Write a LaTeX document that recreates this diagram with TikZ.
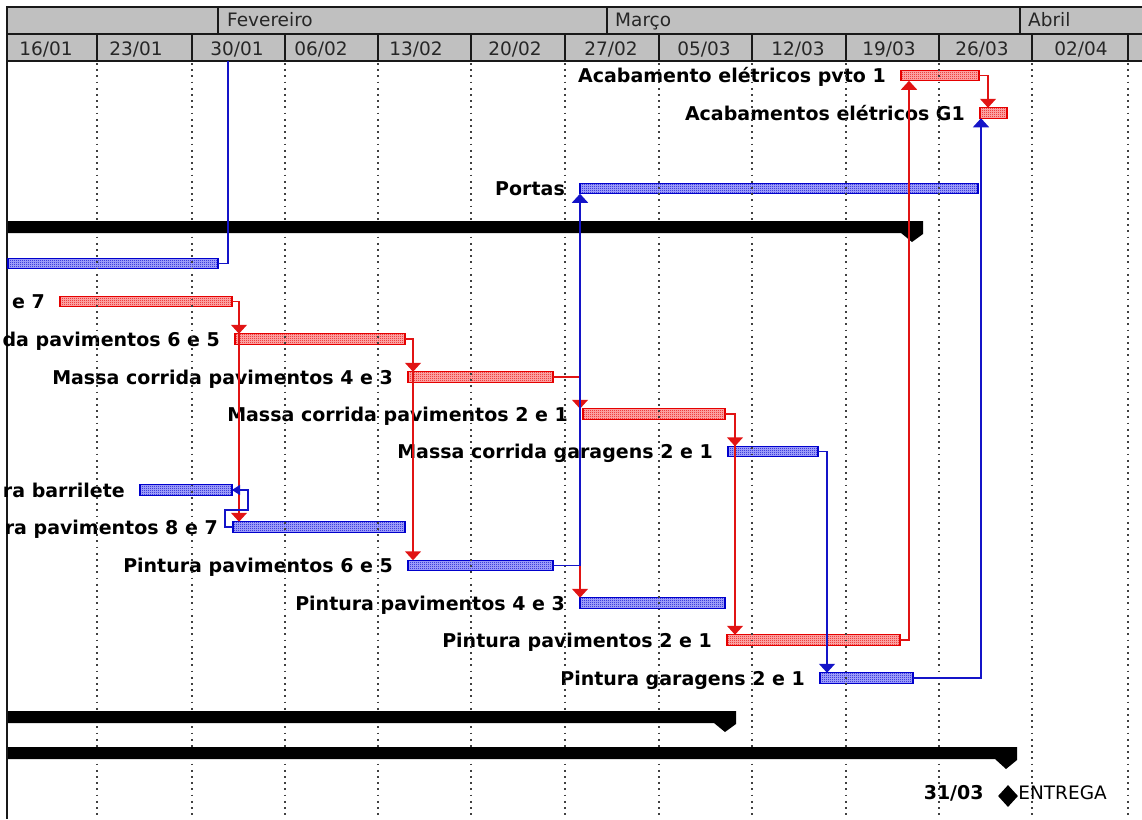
\documentclass[tikz,border=0pt]{standalone}
\usepackage{fontspec}
\setmainfont{DejaVu Sans}
\usetikzlibrary{arrows.meta,patterns,shapes.geometric}

\definecolor{hdrgray}{RGB}{192,192,192}
\definecolor{linkred}{RGB}{225,20,20}
\definecolor{linkblue}{RGB}{20,20,200}

% fine two-tone checker used inside the task bars
\pgfdeclarepatternformonly{checker}{\pgfqpoint{0pt}{0pt}}{\pgfqpoint{2pt}{2pt}}{\pgfqpoint{2pt}{2pt}}{%
  \pgfpathrectangle{\pgfqpoint{0pt}{0pt}}{\pgfqpoint{1pt}{1pt}}%
  \pgfpathrectangle{\pgfqpoint{1pt}{1pt}}{\pgfqpoint{1pt}{1pt}}%
  \pgfusepath{fill}}

\begin{document}
\begin{tikzpicture}[x=1pt,y=-1pt,
  hdrline/.style={line width=2pt, draw=black!90},
  gridline/.style={line width=1.8pt, dash pattern=on 1.8pt off 4.4pt, draw=black!75},
  ganttbar/.style={rectangle, inner sep=0pt, outer sep=0pt, minimum height=10.5pt, line width=1.3pt, anchor=west},
  redbar/.style={ganttbar, draw=red!90!black, preaction={fill=red!28!white}, pattern=checker, pattern color=red!90!black},
  bluebar/.style={ganttbar, draw=blue!80!black, preaction={fill=blue!30!white}, pattern=checker, pattern color=blue!80!black},
  lbl/.style={font=\fontsize{19}{22}\selectfont\bfseries, inner sep=0pt, anchor=base east},
  hdrtext/.style={font=\fontsize{18.5}{20}\selectfont, inner sep=0pt, anchor=base, text=black!85},
  redlink/.style={draw=linkred, line width=1.5pt},
  bluelink/.style={draw=linkblue, line width=1.5pt},
  vtip/.style={-{Triangle[width=16pt,length=9pt]}},
  sidetip/.style={-{Triangle[width=10pt,length=8pt]}},
]
\useasboundingbox (0,0) rectangle (1142,819);

% ---------- timescale header ----------
\fill[hdrgray] (7,7) rectangle (1142,61);
\draw[hdrline] (7,7) -- (1142,7);
\draw[hdrline] (7,33.5) -- (1142,33.5);
\draw[hdrline] (7,61) -- (1142,61);
\draw[hdrline] (7,6) -- (7,819);
\foreach \m in {218,607,1020} \draw[hdrline] (\m,7) -- (\m,33.5);
\foreach \w in {97,192,285,378,471,565,659,752,846,939,1032,1128} \draw[hdrline] (\w,33.5) -- (\w,61);

\node[hdrtext, anchor=base west] (mfev) at (227,27) {Fevereiro};
\node[hdrtext, anchor=base west] (mmar) at (615,27) {Março};
\node[hdrtext, anchor=base west] (mabr) at (1028,27) {Abril};

\node[hdrtext] (d1)  at (46,55)   {16/01};
\node[hdrtext] (d2)  at (136,55)  {23/01};
\node[hdrtext] (d3)  at (237,55)  {30/01};
\node[hdrtext] (d4)  at (321,55)  {06/02};
\node[hdrtext] (d5)  at (416,55)  {13/02};
\node[hdrtext] (d6)  at (515,55)  {20/02};
\node[hdrtext] (d7)  at (611,55)  {27/02};
\node[hdrtext] (d8)  at (704,55)  {05/03};
\node[hdrtext] (d9)  at (798,55)  {12/03};
\node[hdrtext] (d10) at (889,55)  {19/03};
\node[hdrtext] (d11) at (982,55)  {26/03};
\node[hdrtext] (d12) at (1081,55) {02/04};

% ---------- task bars ----------
\node[redbar,  minimum width=78pt]  (a1)  at (901,75.5)  {};
\node[redbar,  minimum width=27pt]  (g1)  at (980,113)   {};
\node[bluebar, minimum width=398pt] (portas) at (580,188.5) {};
\node[bluebar, minimum width=210pt] (ub)  at (8,263.5)   {};
\node[redbar,  minimum width=172pt] (m87) at (60,301.5)  {};
\node[redbar,  minimum width=170pt] (m65) at (235,339)   {};
\node[redbar,  minimum width=145pt] (m43) at (408,377)   {};
\node[redbar,  minimum width=142pt] (m21) at (583,414)   {};
\node[bluebar, minimum width=90pt]  (mg)  at (728,451.5) {};
\node[bluebar, minimum width=92pt]  (brl) at (140,490)   {};
\node[bluebar, minimum width=172pt] (p87) at (233,527)   {};
\node[bluebar, minimum width=145pt] (p65) at (408,565.5) {};
\node[bluebar, minimum width=145pt] (p43) at (580,603)   {};
\node[redbar,  minimum width=173pt] (p21) at (727,640)   {};
\node[bluebar, minimum width=93pt]  (pg)  at (820,678)   {};

% ---------- task names ----------
\node[lbl] (la1)  at ([shift={(-15pt,-7pt)}]a1.west)  {Acabamento elétricos pvto 1};
\node[lbl] (lg1)  at ([shift={(-15pt,-7pt)}]g1.west)  {Acabamentos elétricos G1};
\node[lbl] (lpor) at ([shift={(-15pt,-7pt)}]portas.west) {Portas};
\node[lbl] (lm87) at ([shift={(-15pt,-7pt)}]m87.west) {e 7};
\node[lbl] (lm65) at ([shift={(-15pt,-7pt)}]m65.west) {da pavimentos 6 e 5};
\node[lbl] (lm43) at ([shift={(-15pt,-7pt)}]m43.west) {Massa corrida pavimentos 4 e 3};
\node[lbl] (lm21) at ([shift={(-15pt,-7pt)}]m21.west) {Massa corrida pavimentos 2 e 1};
\node[lbl] (lmg)  at ([shift={(-15pt,-7pt)}]mg.west)  {Massa corrida garagens 2 e 1};
\node[lbl] (lbrl) at ([shift={(-15pt,-7pt)}]brl.west) {ra barrilete};
\node[lbl] (lp87) at ([shift={(-15pt,-7pt)}]p87.west) {ra pavimentos 8 e 7};
\node[lbl] (lp65) at ([shift={(-15pt,-7pt)}]p65.west) {Pintura pavimentos 6 e 5};
\node[lbl] (lp43) at ([shift={(-15pt,-7pt)}]p43.west) {Pintura pavimentos 4 e 3};
\node[lbl] (lp21) at ([shift={(-15pt,-7pt)}]p21.west) {Pintura pavimentos 2 e 1};
\node[lbl] (lpg)  at ([shift={(-15pt,-7pt)}]pg.west)  {Pintura garagens 2 e 1};

% ---------- weekly dotted grid ----------
\foreach \w in {97,192,285,378,471,565,659,752,846,939,1032,1128} \draw[gridline] (\w,63) -- (\w,819);

% ---------- summary bars ----------
\fill (8,221) -- (923,221) -- (923,234) -- (912,242) -- (901,233) -- (8,233) -- cycle;
\fill (8,711) -- (736,711) -- (736,724) -- (725,732) -- (714,723) -- (8,723) -- cycle;
\fill (8,747) -- (1017,747) -- (1017,760) -- (1006,769) -- (995,759) -- (8,759) -- cycle;

% ---------- milestone ----------
\node[diamond, fill=black, inner sep=0pt, minimum width=20pt, minimum height=22pt] (ms) at (1008,796) {};
\node[lbl] (lms) at ([shift={(-14pt,-3pt)}]ms.west) {31/03};
\node[hdrtext, anchor=base west, text=black] (ent) at ([yshift=-3pt]ms.east) {ENTREGA};

% ---------- red links ----------
\draw[redlink, vtip] (m87.east) -| ([xshift=6pt]p87.north west);
\draw[redlink, vtip] ([shift={(4pt,10pt)}]m65.north west) -- ([xshift=4pt]m65.north west);
\draw[redlink, vtip] (m65.east) -| ([xshift=5pt]p65.north west);
\draw[redlink, vtip] ([shift={(5pt,10pt)}]m43.north west) -- ([xshift=5pt]m43.north west);
\draw[redlink, vtip] (m43.east) -| (p43.north west);
\draw[redlink, vtip] ([shift={(-3pt,10pt)}]m21.north west) -- ([xshift=-3pt]m21.north west);
\draw[redlink, vtip] (m21.east) -| ([xshift=8pt]p21.north west);
\draw[redlink, vtip] ([shift={(7pt,10pt)}]mg.north west) -- ([xshift=7pt]mg.north west);
\draw[redlink, vtip] (p21.east) -| ([xshift=8pt]a1.south west);
\draw[redlink, vtip] (a1.east) -| ([xshift=8pt]g1.north west);

% ---------- blue links ----------
\coordinate (ubtop) at (228,61);
\coordinate (lpA) at (225,510);
\coordinate (lpB) at (248,510);
\draw[bluelink] (ub.east) -| (ubtop);
\draw[bluelink, vtip] (p65.east) -| (portas.south west);
\draw[bluelink, vtip] (mg.east) -| ([xshift=7pt]pg.north west);
\draw[bluelink, vtip] (pg.east) -| ([xshift=1pt]g1.south west);
\draw[bluelink, sidetip] (p87.west) -| (lpA) -- (lpB) |- (brl.east);
\end{tikzpicture}
\end{document}
